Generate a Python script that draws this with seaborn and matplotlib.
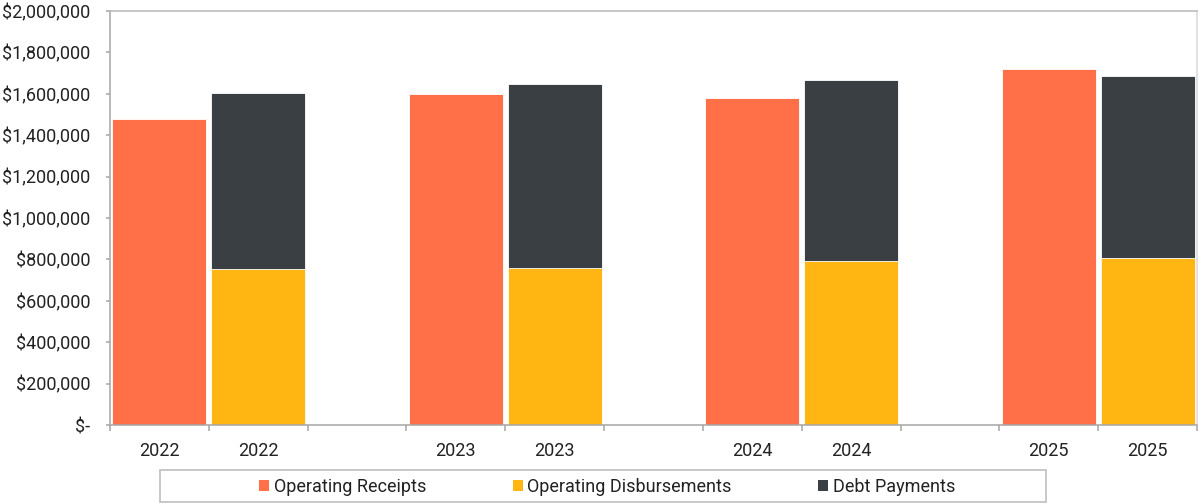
import matplotlib
matplotlib.use("Agg")
import matplotlib.pyplot as plt
from matplotlib.patches import Rectangle, Patch
from matplotlib.ticker import FuncFormatter, FixedLocator
import seaborn as sns
import pandas as pd

# Fiscal years and amounts (USD)
years = ["2022", "2023", "2024", "2025"]
operating_receipts = [1480000, 1600000, 1578000, 1720000]
operating_disbursements = [754000, 760000, 792000, 805000]
debt_payments = [848000, 886000, 875000, 879000]

series_names = ["Operating Receipts", "Operating Disbursements", "Debt Payments"]
colors = {"Operating Receipts": "#FF7049",
          "Operating Disbursements": "#FFB612",
          "Debt Payments": "#3A3F43"}

# Category order: receipts bar, disbursement stack, then an empty spacer slot
order = []
for i, y in enumerate(years):
    order += [f"{y} R", f"{y} D"]
    if i < len(years) - 1:
        order.append(f"spacer {i}")

receipts_df = pd.DataFrame({"slot": [f"{y} R" for y in years],
                            "value": operating_receipts})
stack_df = pd.DataFrame({"slot": [f"{y} D" for y in years],
                         "disb": operating_disbursements,
                         "debt": debt_payments})
stack_df["total"] = stack_df["disb"] + stack_df["debt"]

sns.set_theme(style="white")
plt.rcParams["font.family"] = ["Roboto", "DejaVu Sans"]
plt.rcParams["text.color"] = "#222222"

fig = plt.figure(figsize=(11.99, 5.03), dpi=100)
W, H = 1199, 503
ax = fig.add_axes([110 / W, 1 - 425 / H, (1197 - 110) / W, (425 - 11) / H])

bar_kw = dict(order=order, width=0.95, ax=ax, saturation=1,
              edgecolor="#FFFFFF", linewidth=0.6)
sns.barplot(data=receipts_df, x="slot", y="value",
            color=colors["Operating Receipts"], **bar_kw)
sns.barplot(data=stack_df, x="slot", y="total",
            color=colors["Debt Payments"], **bar_kw)
sns.barplot(data=stack_df, x="slot", y="disb",
            color=colors["Operating Disbursements"], **bar_kw)

ax.set_xlim(-0.5, len(order) - 0.5)
ax.set_ylim(0, 2000000)
ax.set_xlabel("")
ax.set_ylabel("")

# y axis: currency labels with "$-" for zero
ax.yaxis.set_major_locator(FixedLocator(list(range(0, 2000001, 200000))))
ax.yaxis.set_major_formatter(FuncFormatter(lambda v, p: "$-" if v == 0 else f"${v:,.0f}"))
ax.tick_params(axis="y", which="major", left=True, length=3, width=1.1,
               color="#A6A6A6", pad=11, labelsize=13, labelcolor="#222222")

# x axis: year labels under the bars, separator ticks between slots
label_pos = [i for i, s in enumerate(order) if not s.startswith("spacer")]
label_txt = [s.split()[0] for s in order if not s.startswith("spacer")]
ax.set_xticks(label_pos)
ax.set_xticklabels(label_txt)
ax.set_xticks([i - 0.5 for i in range(len(order) + 1)], minor=True)
ax.tick_params(axis="x", which="major", bottom=True, length=0, pad=12,
               labelsize=13, labelcolor="#222222")
ax.tick_params(axis="x", which="minor", bottom=True, length=4, width=1.1,
               color="#A6A6A6")

for side in ["left", "bottom", "top", "right"]:
    ax.spines[side].set_visible(True)
    ax.spines[side].set_color("#A6A6A6")
    ax.spines[side].set_linewidth(1.1)
ax.spines["top"].set_color("#B8B8B8")
ax.spines["right"].set_color("#DADADA")
ax.grid(False)

# Legend in a wide framed box below the plot
fig.add_artist(Rectangle((160 / W, 1 - 502 / H), (1046 - 160) / W, (502 - 470) / H,
                         transform=fig.transFigure, facecolor="white",
                         edgecolor="#BFBFBF", linewidth=1.2))
handles = [Patch(facecolor=colors[n], edgecolor="none", label=n) for n in series_names]
fig.legend(handles=handles, loc="center", bbox_to_anchor=(607 / W, 1 - 487 / H),
           ncol=3, frameon=False, fontsize=13, handlelength=0.55, handleheight=0.55,
           handletextpad=0.25, columnspacing=4.8, borderaxespad=0, borderpad=0)

fig.savefig("out.png", dpi=100)
